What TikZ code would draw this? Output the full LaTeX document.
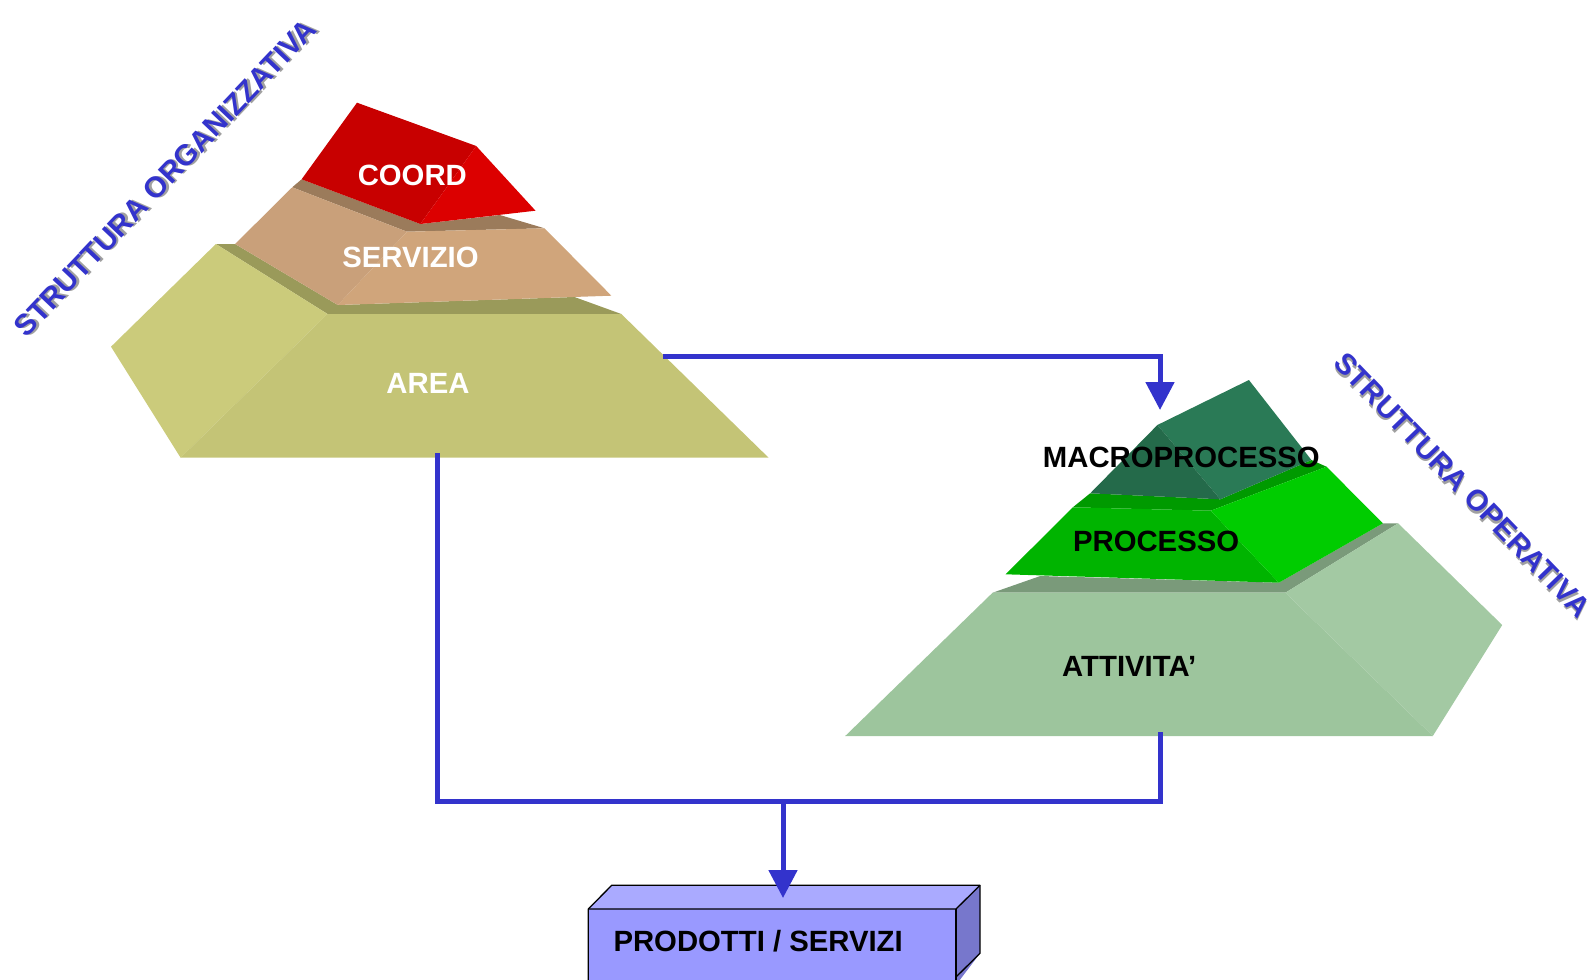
\documentclass[tikz,border=0pt]{standalone}
\usepackage{fontspec}
\setmainfont{Liberation Sans}
\usetikzlibrary{arrows.meta}
\definecolor{cblue}{HTML}{3333CC}
\definecolor{redL}{HTML}{C80000}
\definecolor{redR}{HTML}{DC0000}
\definecolor{srvBand}{HTML}{9B7B5B}
\definecolor{srvL}{HTML}{C9A07A}
\definecolor{srvF}{HTML}{D0A57B}
\definecolor{areaBand}{HTML}{9A9A5A}
\definecolor{areaL}{HTML}{CBCB7B}
\definecolor{areaF}{HTML}{C4C476}
\definecolor{macL}{HTML}{246A4A}
\definecolor{macR}{HTML}{2A7A56}
\definecolor{proBand}{HTML}{009A00}
\definecolor{proF}{HTML}{00B400}
\definecolor{proR}{HTML}{00CC00}
\definecolor{attBand}{HTML}{7A9A7A}
\definecolor{attF}{HTML}{9DC59D}
\definecolor{attR}{HTML}{A3C9A3}
\definecolor{boxF}{HTML}{9999FF}
\definecolor{boxT}{HTML}{AAAAFF}
\definecolor{boxR}{HTML}{7777CC}
\definecolor{shadowgray}{HTML}{A0A0A0}
\newcommand{\shadowtext}[1]{\makebox[0pt][l]{\hspace{2pt}\raisebox{-2pt}{\textcolor{shadowgray}{#1}}}\textcolor{cblue}{#1}}
\begin{document}
\begin{tikzpicture}[x=1pt,y=-1pt,
  lbl/.style={font=\bfseries\fontsize{29.3}{29.3}\selectfont, inner sep=0pt},
  conn/.style={draw=cblue, line width=5pt, line join=miter},
  tip/.style={-{Triangle[length=28pt,width=28pt]}},
  boxedge/.style={draw=black, line width=1.3pt, line join=round}]
\useasboundingbox (0,0) rectangle (1594,979);

% ---------------- left pyramid ----------------
% AREA
\fill[areaBand] (215.9,244) -- (327.5,314) -- (621.3,314) -- (574.4,297) -- (337.8,305) -- (235.1,244) -- cycle;
\fill[areaL] (215.9,244) -- (327.5,314) -- (180.6,457.7) -- (111.0,346.7) -- cycle;
\fill[areaF] (327.5,314) -- (621.3,314) -- (768.6,457.7) -- (180.6,457.7) -- cycle;
% SERVIZIO
\fill[srvBand] (292.2,187.3) -- (407.0,231.7) -- (544.5,228.3) -- (499.8,215) -- (420.4,224) -- (301.6,179.3) -- cycle;
\fill[srvL] (292.2,187.3) -- (407.0,231.7) -- (337.8,305) -- (235.1,244) -- cycle;
\fill[srvF] (407.0,231.7) -- (544.5,228.3) -- (611.4,295.7) -- (337.8,305) -- cycle;
% COORD
\fill[redL] (357.0,102.7) -- (476.2,146.0) -- (420.4,224.0) -- (301.6,179.3) -- cycle;
\fill[redR] (476.2,146.0) -- (535.5,210.7) -- (420.4,224.0) -- cycle;

\node[lbl,white] (coord) at (412.3,175) {COORD};
\node[lbl,white] (servizio) at (410.5,257.3) {SERVIZIO};
\node[lbl,white] (area) at (428,383.3) {AREA};

% ---------------- right pyramid ----------------
% ATTIVITA'
\fill[attBand] (992.6,592.7) -- (1285.3,592.7) -- (1398.1,523.3) -- (1382.9,523.3) -- (1278.8,582.7) -- (1040.3,576) -- cycle;
\fill[attF] (992.6,592.7) -- (1285.3,592.7) -- (1432.8,736) -- (845.2,736) -- cycle;
\fill[attR] (1285.3,592.7) -- (1398.1,523.3) -- (1502.2,625) -- (1432.8,736) -- cycle;
% PROCESSO
\fill[proBand] (1072.8,507.3) -- (1210.8,510.7) -- (1326.5,466.7) -- (1311.4,460) -- (1220.3,499.3) -- (1090.2,493.3) -- cycle;
\fill[proF] (1072.8,507.3) -- (1210.8,510.7) -- (1278.8,582.7) -- (1005.6,574.3) -- cycle;
\fill[proR] (1210.8,510.7) -- (1326.5,466.7) -- (1382.9,523.3) -- (1278.8,582.7) -- cycle;
% MACROPROCESSO
\fill[macR] (1157.4,425) -- (1248.9,380) -- (1311.4,460) -- (1220.3,499.3) -- cycle;
\fill[macL] (1157.4,425) -- (1220.3,499.3) -- (1090.2,493.3) -- cycle;

\node[lbl,black] (macro) at (1181.3,457.3) {MACROPROCESSO};
\node[lbl,black] (processo) at (1156.1,541.7) {PROCESSO};
\node[lbl,black] (attivita) at (1129.2,666.7) {ATTIVITA’};

% ---------------- output box ----------------
\fill[boxT] (588.3,909) -- (611.7,885.3) -- (980,885.3) -- (956,909) -- cycle;
\fill[boxR] (956,909) -- (980,885.3) -- (980,953.3) -- (956,985) -- cycle;
\fill[boxF] (588.3,909) rectangle (956,985);
\draw[boxedge] (588.3,985) -- (588.3,909) -- (611.7,885.3) -- (980,885.3) -- (980,953.3) -- (956,977);
\draw[boxedge] (588.3,909) -- (956,909) -- (980,885.3);
\draw[boxedge] (956,909) -- (956,985);
\node[lbl,black,anchor=west] (prodotti) at (613.3,941) {PRODOTTI / SERVIZI};

% ---------------- connectors ----------------
\coordinate (areaR) at (663,356);
\coordinate (macT) at (1160,410);
\coordinate (areaB) at (437,453);
\coordinate (jL) at (437,801);
\coordinate (jR) at (1160,801);
\coordinate (attB) at (1160,732);
\coordinate (jM) at (783,801);
\coordinate (boxTop) at (783,898);

\draw[conn,tip] (areaR) -| (macT);
\draw[conn] (areaB) -- (jL) -- (jR) -- (attB);
\draw[conn,tip] (jM) -- (boxTop);

% ---------------- rotated titles ----------------
\node[lbl,rotate=46.5] (org) at (165.8,178.3) {\shadowtext{STRUTTURA ORGANIZZATIVA}};
\node[lbl,rotate=-46] (op) at (1461.7,485.8) {\shadowtext{STRUTTURA OPERATIVA}};
\end{tikzpicture}
\end{document}
